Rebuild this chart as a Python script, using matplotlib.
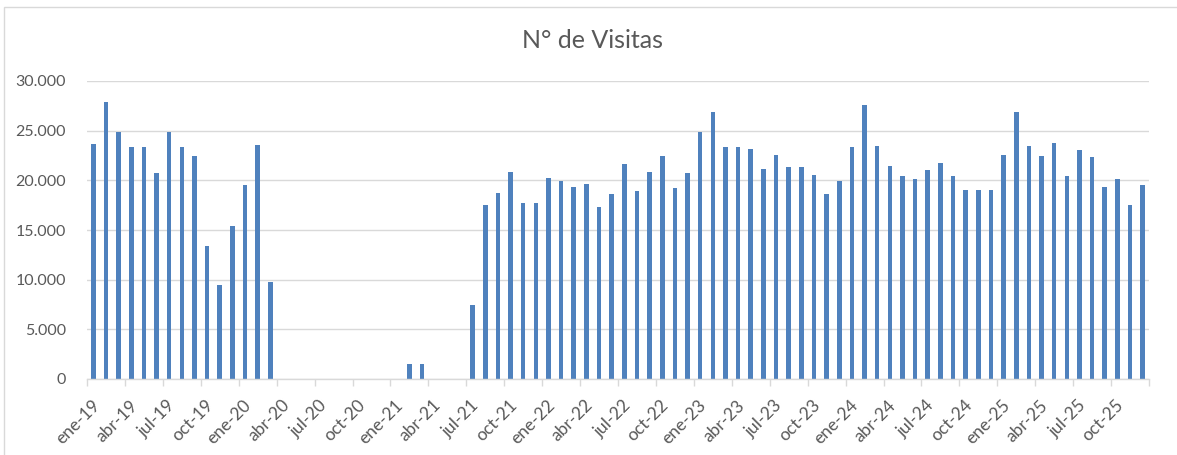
import matplotlib
matplotlib.use("Agg")
import matplotlib.pyplot as plt
from matplotlib.ticker import FuncFormatter, FixedLocator
from matplotlib.patches import Rectangle

plt.rcParams['font.family'] = ['Lato', 'DejaVu Sans']

years = ['19', '20', '21', '22', '23', '24', '25']
month_abbr = ['ene', 'feb', 'mar', 'abr', 'may', 'jun',
              'jul', 'ago', 'sep', 'oct', 'nov', 'dic']
months = [f"{m}-{y}" for y in years for m in month_abbr]

visitas = [
    # 2019
    23700, 27900, 24900, 23400, 23400, 20700, 24900, 23400, 22500, 13400, 9500, 15400,
    # 2020
    19500, 23600, 9800, 0, 0, 0, 0, 0, 0, 0, 0, 0,
    # 2021
    0, 1500, 1500, 0, 0, 0, 7500, 17500, 18700, 20800, 17700, 17700,
    # 2022
    20200, 19900, 19300, 19600, 17300, 18600, 21600, 18900, 20800, 22500, 19200, 20700,
    # 2023
    24900, 26900, 23400, 23400, 23200, 21100, 22600, 21300, 21300, 20500, 18600, 19900,
    # 2024
    23400, 27600, 23500, 21400, 20400, 20100, 21000, 21700, 20400, 19000, 19000, 19000,
    # 2025
    22600, 26900, 23500, 22500, 23800, 20400, 23100, 22300, 19300, 20100, 17500, 19500,
]

label_step = 3
y_ticks = [0, 5000, 10000, 15000, 20000, 25000, 30000]
title = "N° de Visitas"

bar_color = '#4f81bd'
grid_color = '#d9d9d9'
text_color = '#595959'

W, H = 1177, 455
fig = plt.figure(figsize=(W / 100, H / 100), dpi=100)
ax = fig.add_axes([87 / W, 1 - 379 / H, (1149 - 87) / W, (379 - 81) / H])

n = len(months)
xs = [i + 0.5 for i in range(n)]
ax.bar(xs, visitas, width=0.36, color=bar_color, zorder=3)

ax.set_xlim(0, n)
ax.set_ylim(0, 30000)
ax.set_yticks(y_ticks)
ax.yaxis.set_major_formatter(FuncFormatter(lambda v, p: f"{int(v):,}".replace(",", ".")))
ax.grid(axis='y', color=grid_color, linewidth=1.0, zorder=0)
ax.tick_params(axis='y', length=0, pad=15, labelsize=11.5, labelcolor=text_color)

# tick marks at category edges
ax.xaxis.set_major_locator(FixedLocator(list(range(0, n + 1, label_step))))
ax.xaxis.set_major_formatter(FuncFormatter(lambda v, p: ""))
ax.tick_params(axis='x', which='major', length=5, color=grid_color, width=1)
# labels at category centres
label_pos = [i + 0.35 for i in range(0, n, label_step)]
ax.set_xticks(label_pos, minor=True)
ax.set_xticklabels([months[i] for i in range(0, n, label_step)], minor=True,
                   rotation=45, ha='right', rotation_mode='anchor',
                   fontsize=12.5, color=text_color)
ax.tick_params(axis='x', which='minor', length=0, pad=13)

for s in ['top', 'right', 'left']:
    ax.spines[s].set_visible(False)
ax.spines['bottom'].set_color(grid_color)
ax.spines['bottom'].set_linewidth(1)
ax.spines['bottom'].set_zorder(4)

fig.text(592 / W, 1 - 41 / H, title, ha='center', va='center',
         fontsize=18, color=text_color)

# chart-area border
fig.patches.append(Rectangle((4 / W, -0.1), 1.2, 1 - 7 / H + 0.1,
                             transform=fig.transFigure, fill=False,
                             edgecolor=grid_color, linewidth=1))

fig.savefig("out.png", dpi=100, facecolor='white')
